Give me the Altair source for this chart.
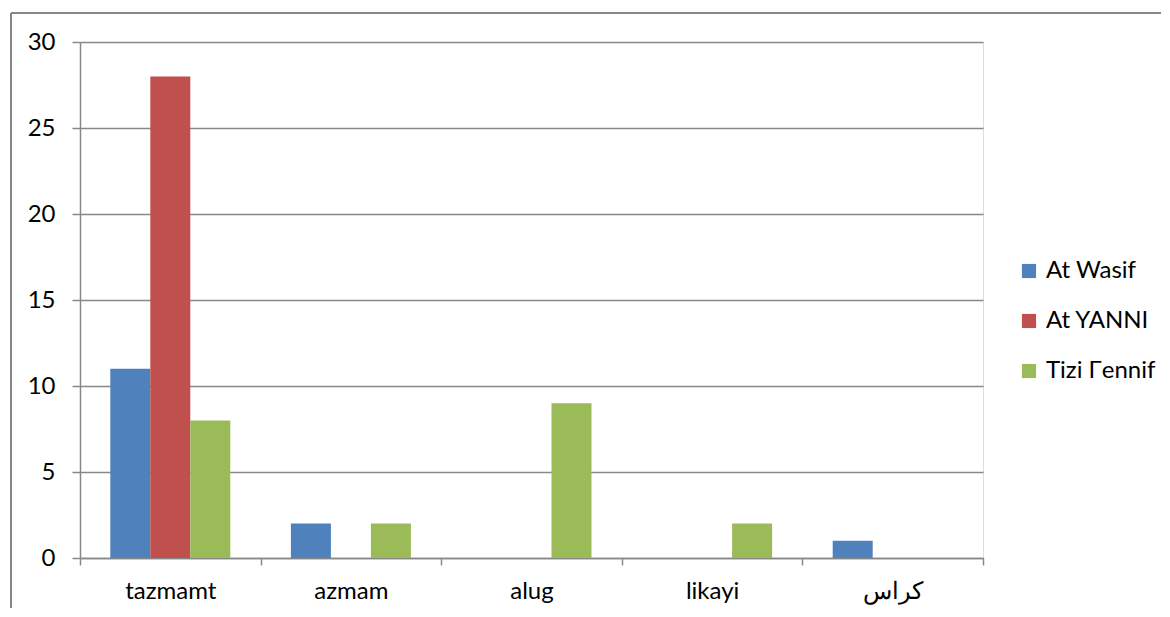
import altair as alt
import pandas as pd

categories = ["tazmamt", "azmam", "alug", "likayi", "كراس"]
series = ["At Wasif", "At YANNI", "Tizi Γennif"]
colors = ["#4F81BD", "#C0504D", "#9BBB59"]
at_wasif = [11, 2, 0, 0, 1]
at_yanni = [28, 0, 0, 0, 0]
tizi_gennif = [8, 2, 9, 2, 0]

rows = []
for s, vals in zip(series, [at_wasif, at_yanni, tizi_gennif]):
    for c, v in zip(categories, vals):
        rows.append({"category": c, "series": s, "value": v})
df = pd.DataFrame(rows)

FONT = "Lato"
FS = 24
W, H = 903, 516

bars = alt.Chart(df).mark_bar().encode(
    x=alt.X("category:N", sort=categories, title=None,
            scale=alt.Scale(paddingInner=0, paddingOuter=0),
            axis=alt.Axis(labelAngle=0, tickBand="extent", tickSize=7,
                          tickColor="#888888", domainColor="#888888",
                          domainWidth=1.5, tickWidth=1.5,
                          labelFontSize=FS, labelColor="black", labelFont=FONT,
                          labelPadding=14, grid=False)),
    xOffset=alt.XOffset("series:N", sort=series,
                        scale=alt.Scale(paddingInner=0, paddingOuter=0.7575)),
    y=alt.Y("value:Q", title=None,
            scale=alt.Scale(domain=[0, 30], nice=False),
            axis=alt.Axis(values=[0, 5, 10, 15, 20, 25, 30], tickSize=8,
                          tickColor="#888888", domainColor="#888888",
                          domainWidth=1.5, tickWidth=1.5,
                          gridColor="#888888", gridWidth=1.5,
                          labelFontSize=FS, labelColor="black", labelFont=FONT,
                          labelPadding=17)),
    color=alt.Color("series:N", sort=series,
                    scale=alt.Scale(domain=series, range=colors),
                    legend=alt.Legend(title=None, orient="none", legendX=937, legendY=217,
                                      symbolType="square", symbolSize=200,
                                      symbolStrokeWidth=0,
                                      labelFontSize=FS, labelFont=FONT, labelColor="black",
                                      rowPadding=26, labelOffset=5)),
)

one = pd.DataFrame({"a": [0]})
left_border = alt.Chart(one).mark_rule(color="#868686", strokeWidth=2).encode(
    x=alt.value(-69), y=alt.value(-29), y2=alt.value(620))
top_border = alt.Chart(one).mark_rule(color="#868686", strokeWidth=2).encode(
    x=alt.value(-69), x2=alt.value(1100), y=alt.value(-29))

chart = alt.layer(bars, left_border, top_border).properties(
    width=W, height=H,
    autosize=alt.AutoSizeParams(type="none"),
    padding={"left": 72, "top": 34, "right": 178, "bottom": 50},
).configure_view(stroke=None).configure(background="white")

chart.save("out.html", embed_options={"renderer": "svg", "actions": False})
